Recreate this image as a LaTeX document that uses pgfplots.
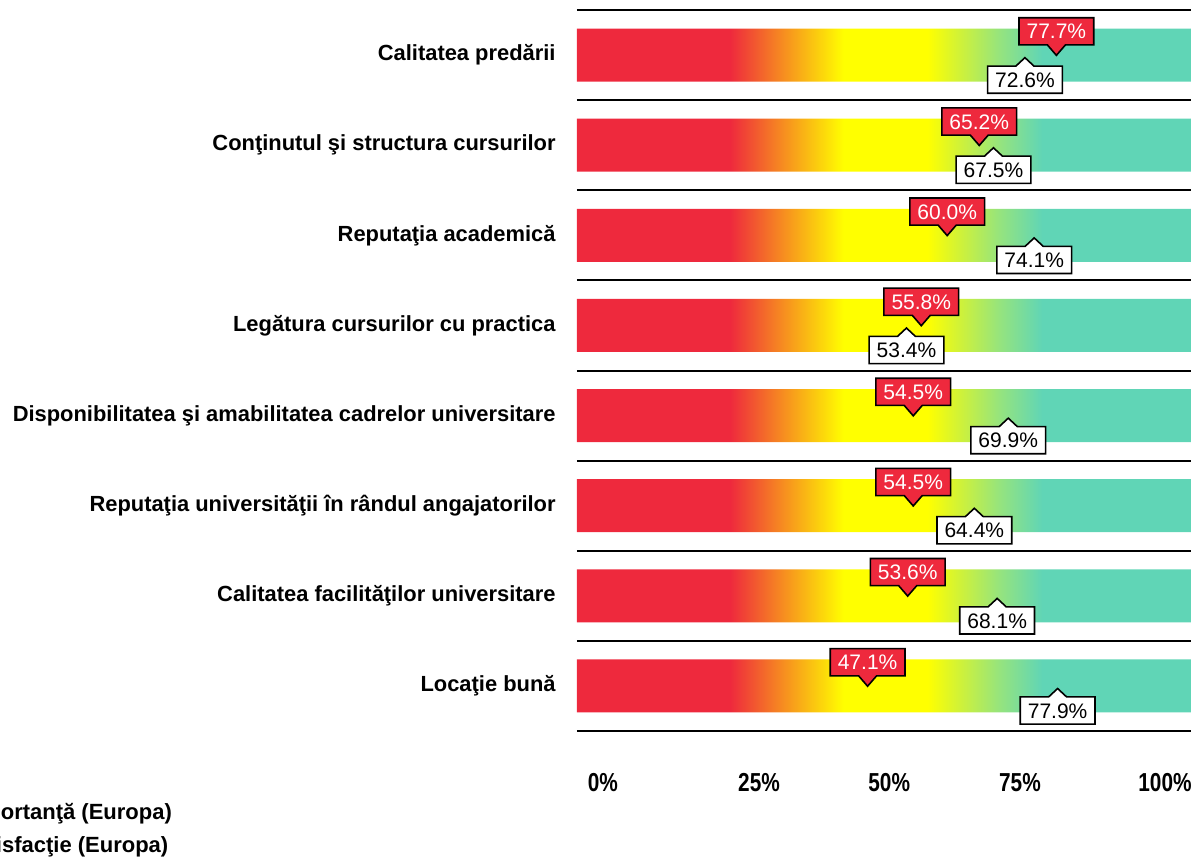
\documentclass[border=0pt]{standalone}
\usepackage{fontspec}
\setmainfont{Liberation Sans}
\newfontfamily\tickfont{Liberation Sans}[FakeStretch=0.8]
\usepackage{pgfplots}
\usepackage{pgfplotstable}
\pgfplotsset{compat=1.18}
\usetikzlibrary{shapes.callouts}
\definecolor{myred}{RGB}{238,41,61}
\definecolor{myorange}{RGB}{247,148,30}
\definecolor{myyellow}{RGB}{255,255,0}
\definecolor{ygreen}{RGB}{208,242,56}
\definecolor{lgreen}{RGB}{150,228,125}
\definecolor{myteal}{RGB}{96,213,182}
\pgfdeclarehorizontalshading{barshade}{100bp}{color(0bp)=(myred); color(37.4bp)=(myred); color(42bp)=(myorange); color(46.6bp)=(myyellow); color(53.4bp)=(myyellow); color(56bp)=(ygreen); color(59.2bp)=(lgreen); color(62.7bp)=(myteal); color(100bp)=(myteal)}

\pgfplotstableread{
row imp sat
1 77.7 72.6
2 65.2 67.5
3 60.0 74.1
4 55.8 53.4
5 54.5 69.9
6 54.5 64.4
7 53.6 68.1
8 47.1 77.9
}\datatable

\tikzset{
  basecall/.style={rectangle callout, draw=black, line width=0.8pt,
    font=\fontsize{10.5}{12}\selectfont, inner xsep=3.8pt, inner ysep=3pt,
    text height=7.6pt, text depth=0pt, callout pointer width=9pt, anchor=pointer},
  impcall/.style={basecall, fill=myred, text=white, callout relative pointer={(0pt,-5.2pt)}, yshift=-0.75pt},
  satcall/.style={basecall, fill=white, text=black, callout relative pointer={(0pt,4.2pt)}, yshift=-0.75pt},
}

\begin{document}
\begin{tikzpicture}
\useasboundingbox (-288.5pt,-65pt) rectangle (307pt,365.5pt);
\clip (-288.5pt,-65pt) rectangle (307pt,365.5pt);
\begin{axis}[
  scale only axis, width=308.5pt, height=360.5pt,
  xmin=0, xmax=100, ymin=0.5, ymax=8.5, y dir=reverse,
  axis line style={draw=none},
  major tick length=0pt, minor tick length=0pt,
  ytick={1,...,8},
  yticklabels={Calitatea predării, Conţinutul şi structura cursurilor, Reputaţia academică, Legătura cursurilor cu practica, Disponibilitatea şi amabilitatea cadrelor universitare, Reputaţia universităţii în rândul angajatorilor, Calitatea facilităţilor universitare, Locaţie bună},
  minor ytick={0.5,1.5,...,8.5}, yminorgrids,
  minor grid style={black, line width=1pt},
  xtick={4.2,29.5,50.6,71.8,95.3},
  xticklabels={0\%,25\%,50\%,75\%,100\%},
  xticklabel style={font=\tickfont\bfseries\fontsize{13}{15}\selectfont, inner sep=0pt, anchor=north, yshift=-21pt},
  yticklabel style={font=\bfseries\fontsize{10.95}{13}\selectfont, inner sep=0pt, anchor=east, xshift=-10.5pt},
  clip=false,
  legend style={at={(axis description cs:-0.650,-0.098)}, anchor=north east, draw=none, fill=none,
    inner sep=0pt, outer sep=0pt, font=\bfseries\fontsize{11}{12}\selectfont, row sep=4pt,
    nodes={inner xsep=2pt, inner ysep=1pt, text height=8pt, text depth=2.5pt}},
  legend cell align=left,
]
\addplot[xbar, bar width=0.589, draw=none, shading=barshade, forget plot]
  coordinates {(100,1) (100,2) (100,3) (100,4) (100,5) (100,6) (100,7) (100,8)};
\addplot[draw=none, mark=none, point meta=x,
  nodes near coords={\pgfmathprintnumber[fixed,fixed zerofill,precision=1,assume math mode=true]{\pgfplotspointmeta}\%},
  nodes near coords style={impcall},
  legend image code/.code={\draw[fill=myred, draw=black] (0pt,-4pt) rectangle (8pt,4pt);}]
  table[x=imp, y=row] {\datatable};
\addlegendentry{Importanţă (Europa)}
\addplot[draw=none, mark=none, point meta=x,
  nodes near coords={\pgfmathprintnumber[fixed,fixed zerofill,precision=1,assume math mode=true]{\pgfplotspointmeta}\%},
  nodes near coords style={satcall},
  legend image code/.code={\draw[fill=white, draw=black] (0pt,-4pt) rectangle (8pt,4pt);}]
  table[x=sat, y=row] {\datatable};
\addlegendentry{Satisfacţie (Europa)}
\end{axis}
\end{tikzpicture}
\end{document}
